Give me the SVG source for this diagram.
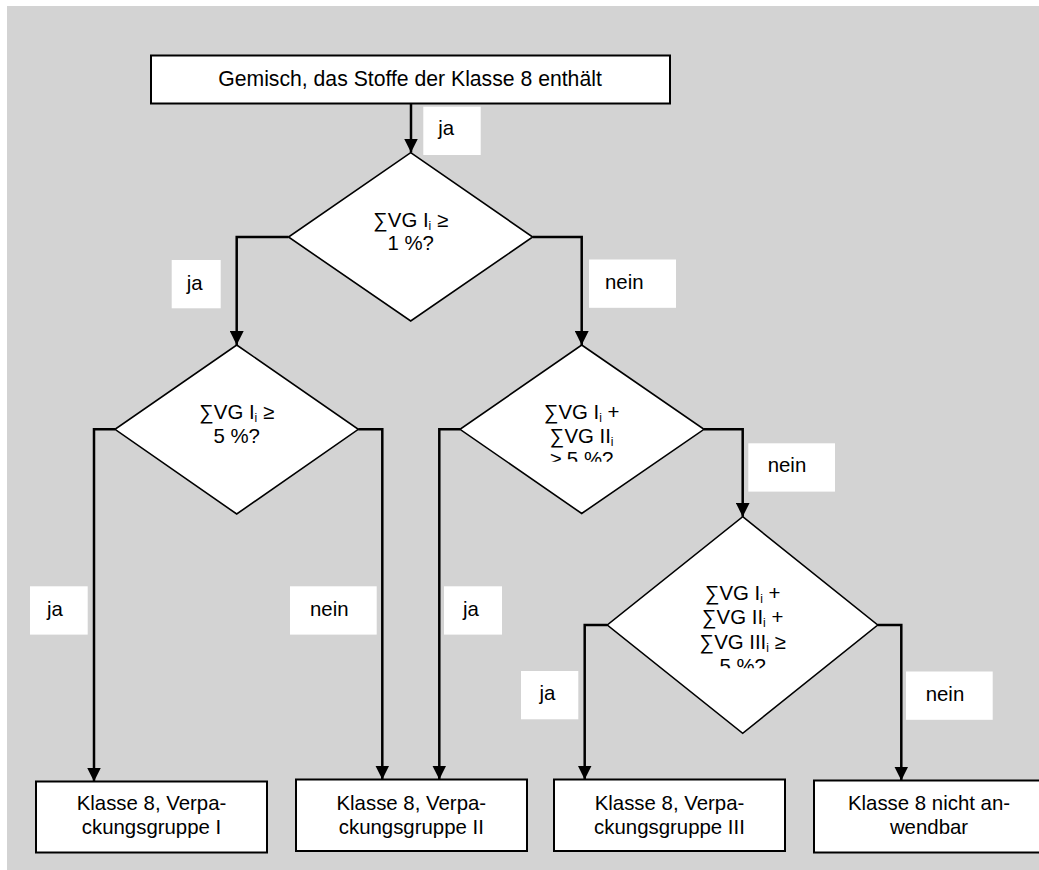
<svg xmlns="http://www.w3.org/2000/svg" width="1039" height="870" viewBox="0 0 1039 870">
<style>
text{font-family:"Liberation Sans",Arial,sans-serif;font-size:20.4px;fill:#000}
.c{text-anchor:middle}
.t{font-size:21.2px}
.box{fill:#fff;stroke:#000;stroke-width:2}
.dia{fill:#fff;stroke:#000;stroke-width:1.6}
.lbl{fill:#fff;stroke:none}
.con{fill:none;stroke:#000;stroke-width:2.5;marker-end:url(#arr)}
.s{font-size:12px}
</style>
<defs>
<marker id="arr" markerUnits="userSpaceOnUse" markerWidth="14" markerHeight="14" refX="14" refY="7" orient="auto" viewBox="0 0 14 14">
<path d="M0,0 L14,7 L0,14 Z" fill="#000"/>
</marker>
<clipPath id="clip3"><rect x="460" y="380" width="244" height="81.7"/></clipPath>
<clipPath id="clip4"><rect x="607" y="560" width="271" height="108.3"/></clipPath>
</defs>
<rect x="7" y="6" width="1032" height="864" fill="#d3d3d3"/>

<g id="connectors">
<path class="con" d="M411,104 V152.5"/>
<path class="con" d="M288.5,237 H236.7 V345"/>
<path class="con" d="M532.7,237 H581.7 V345"/>
<path class="con" d="M115,429.3 H94 V781.5"/>
<path class="con" d="M358.3,429.3 H382.3 V779.5"/>
<path class="con" d="M460,429.3 H439.3 V779.5"/>
<path class="con" d="M704,429.3 H742.7 V516.7"/>
<path class="con" d="M607.3,625 H584.7 V779.5"/>
<path class="con" d="M877.7,625 H901.3 V780.5"/>
</g>

<g id="labels">
<rect class="lbl" x="423.3" y="106.7" width="57.4" height="48.3"/>
<text x="438.3" y="135">ja</text>
<rect class="lbl" x="171.7" y="260" width="49" height="48.3"/>
<text x="186.7" y="289.5">ja</text>
<rect class="lbl" x="589" y="259.5" width="87" height="48.3"/>
<text x="605" y="289">nein</text>
<rect class="lbl" x="30" y="586.3" width="57.7" height="48.3"/>
<text x="47" y="615.5">ja</text>
<rect class="lbl" x="290" y="586.3" width="86.7" height="48.3"/>
<text x="310" y="615.5">nein</text>
<rect class="lbl" x="444" y="586.3" width="58" height="48.3"/>
<text x="463" y="615.5">ja</text>
<rect class="lbl" x="748.3" y="443.3" width="86.7" height="48.3"/>
<text x="767.7" y="471.7">nein</text>
<rect class="lbl" x="521" y="671" width="57.3" height="48.3"/>
<text x="539.5" y="700">ja</text>
<rect class="lbl" x="906" y="671.5" width="86.7" height="48.3"/>
<text x="925.7" y="701">nein</text>
</g>

<g id="start">
<rect class="box" x="151" y="55.5" width="519" height="48"/>
<text class="c t" x="410" y="86">Gemisch, das Stoffe der Klasse 8 enthält</text>
</g>

<g id="d1">
<polygon class="dia" points="410.7,152.7 532.7,237 410.7,321 288.5,237"/>
<text class="c" x="410.7" y="226.7">∑VG I<tspan class="s" dy="3">i</tspan><tspan dy="-3"> ≥</tspan></text>
<text class="c" x="410.7" y="249.5">1 %?</text>
</g>

<g id="d2">
<polygon class="dia" points="236.7,345 358.3,429.3 236.7,514 115,429.3"/>
<text class="c" x="236.7" y="419.3">∑VG I<tspan class="s" dy="3">i</tspan><tspan dy="-3"> ≥</tspan></text>
<text class="c" x="236.7" y="442.5">5 %?</text>
</g>

<g id="d3">
<polygon class="dia" points="581.7,345 704,429.3 581.7,513.5 460,429.3"/>
<g clip-path="url(#clip3)">
<text class="c" x="581.7" y="419.3">∑VG I<tspan class="s" dy="3">i</tspan><tspan dy="-3"> +</tspan></text>
<text class="c" x="581.7" y="442.5">∑VG II<tspan class="s" dy="3">i</tspan></text>
<text class="c" x="581.7" y="466">≥ 5 %?</text>
</g>
</g>

<g id="d4">
<polygon class="dia" points="742.7,516.7 877.7,625 742.7,733.3 607.3,625"/>
<g clip-path="url(#clip4)">
<text class="c" x="742.7" y="600">∑VG I<tspan class="s" dy="3">i</tspan><tspan dy="-3"> +</tspan></text>
<text class="c" x="742.7" y="624.3">∑VG II<tspan class="s" dy="3">i</tspan><tspan dy="-3"> +</tspan></text>
<text class="c" x="742.7" y="648.8">∑VG III<tspan class="s" dy="3">i</tspan><tspan dy="-3"> ≥</tspan></text>
<text class="c" x="742.7" y="673.3">5 %?</text>
</g>
</g>

<g id="pg1">
<rect class="box" x="36" y="781.5" width="231" height="71"/>
<text class="c" x="151.5" y="809.7">Klasse 8, Verpa-</text>
<text class="c" x="151.5" y="834">ckungsgruppe I</text>
</g>
<g id="pg2">
<rect class="box" x="296" y="779.5" width="231" height="71.5"/>
<text class="c" x="411.3" y="810">Klasse 8, Verpa-</text>
<text class="c" x="411.3" y="834">ckungsgruppe II</text>
</g>
<g id="pg3">
<rect class="box" x="554" y="779.5" width="231" height="71.5"/>
<text class="c" x="669.5" y="810">Klasse 8, Verpa-</text>
<text class="c" x="669.5" y="834">ckungsgruppe III</text>
</g>
<g id="na">
<rect class="box" x="814" y="780.5" width="230" height="72"/>
<text class="c" x="929" y="810">Klasse 8 nicht an-</text>
<text class="c" x="929" y="834.3">wendbar</text>
</g>
</svg>
